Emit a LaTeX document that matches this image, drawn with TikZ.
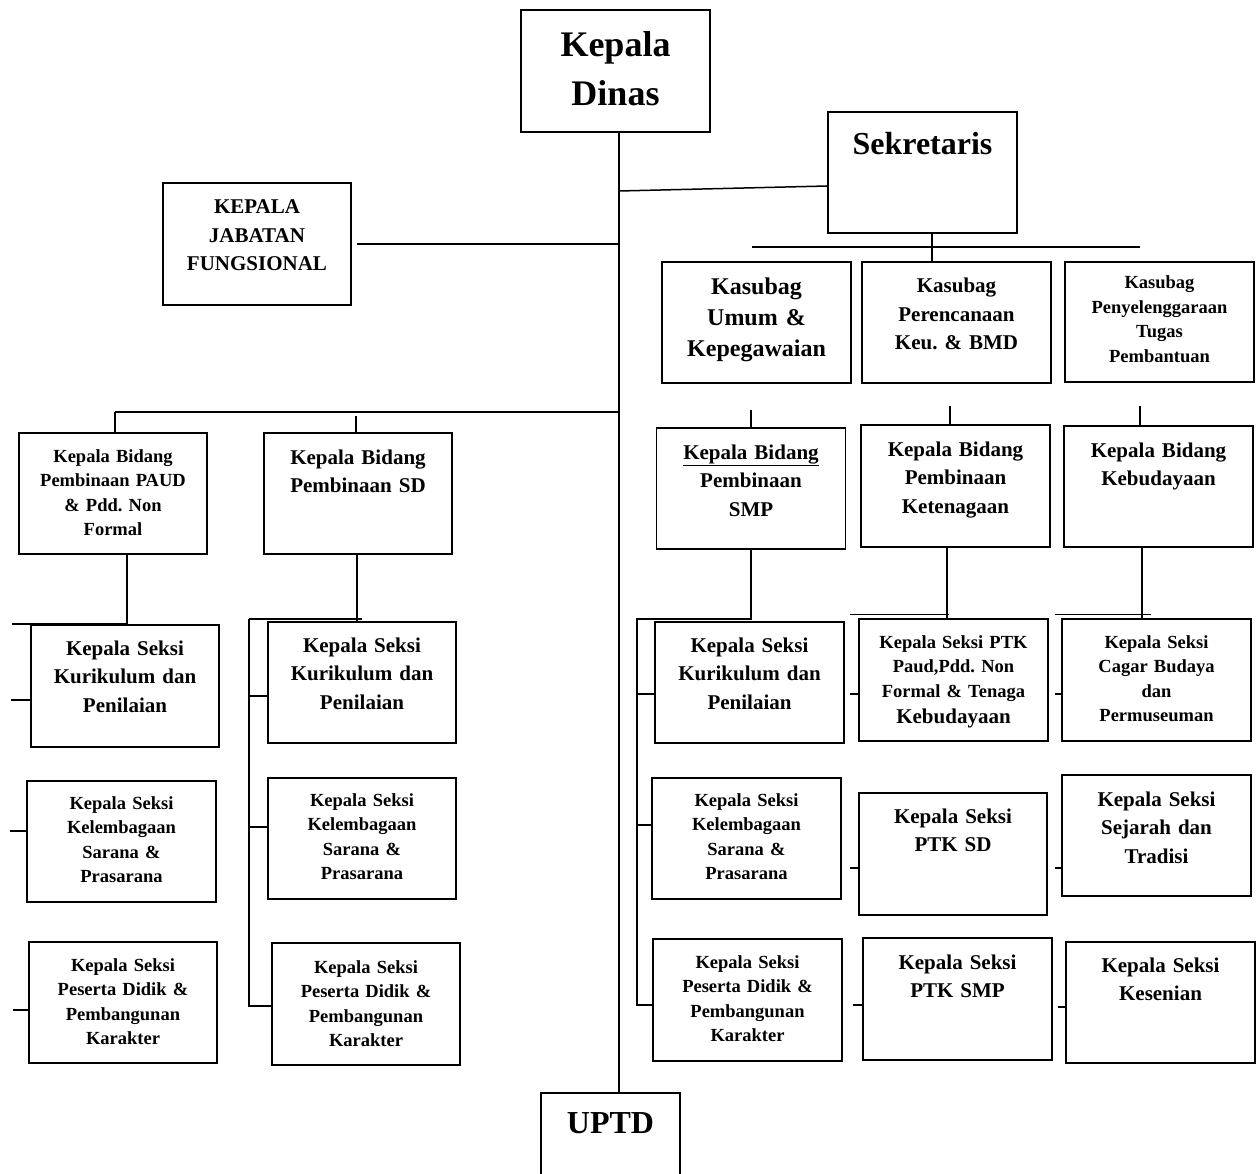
\documentclass[tikz,border=0pt]{standalone}
\usepackage{fontspec}
\setmainfont{Liberation Serif}
\frenchspacing
\newcommand{\raksasa}{\fontsize{36}{49}\selectfont\bfseries}
\newcommand{\judul}{\fontsize{32}{40}\selectfont\bfseries}
\newcommand{\agakbesar}{\fontsize{24}{31}\selectfont\bfseries}
\newcommand{\sedang}{\fontsize{21}{28.5}\selectfont\bfseries}
\newcommand{\kecil}{\fontsize{18.5}{24.5}\selectfont\bfseries}

\begin{document}
\begin{tikzpicture}[x=1pt, y=-1pt, line width=1.5pt,
    kotak/.style={draw, minimum width=189pt, minimum height=121pt, inner sep=0pt},
    tulis/.style={anchor=base, text width=186pt, align=center, inner sep=0pt}]
        \useasboundingbox (0,0) rectangle (1259,1174);
        \coordinate (poros) at (619,0);

        % pimpinan
        \node[kotak, minimum height=122pt] (kd) at (615.5,71) {};
        \node[tulis, font=\raksasa] (tkd) at (615.5,57) {Kepala\\Dinas};
        \node[kotak] (sek) at (922.5,172.5) {};
        \node[tulis, font=\judul] (tsek) at (922.5,155) {Sekretaris};
        \node[kotak, minimum width=139pt, minimum height=97pt] (uptd) at (610.5,1141.5) {};
        \node[tulis, font=\judul] (tuptd) at (610.5,1133) {UPTD};
        \node[kotak, minimum width=188pt, minimum height=122pt] (jf) at (257,244) {};
        \node[tulis, font=\sedang] (tjf) at (257,214) {KEPALA\\JABATAN\\FUNGSIONAL};

        % kasubag
        \node[kotak] (umum) at (756.5,322.5) {};
        \node[tulis, font=\agakbesar] (tumum) at (756.5,295) {Kasubag\\Umum \&\\Kepegawaian};
        \node[kotak] (ren) at (956.5,322.5) {};
        \node[tulis, font=\sedang] (tren) at (956.5,293) {Kasubag\\Perencanaan\\Keu. \& BMD};
        \node[kotak, minimum height=120pt] (pen) at (1159.5,322) {};
        \node[tulis, font=\kecil] (tpen) at (1159.5,289) {Kasubag\\Penyelenggaraan\\Tugas\\Pembantuan};

        % kepala bidang
        \node[kotak, minimum width=188pt] (bpaud) at (113,493.5) {};
        \node[tulis, font=\kecil] (tbpaud) at (113,462) {Kepala Bidang\\Pembinaan PAUD\\\& Pdd. Non\\Formal};
        \node[kotak, minimum width=188pt] (bsd) at (358,493.5) {};
        \node[tulis, font=\sedang] (tbsd) at (358,464) {Kepala Bidang\\Pembinaan SD};
        \node[kotak] (bsmp) at (751,488.5) {};
        \node[tulis, font=\sedang] (tbsmp) at (751,459) {\underline{Kepala Bidang}\\Pembinaan\\SMP};
        \node[kotak, minimum height=122pt] (bket) at (955.5,486) {};
        \node[tulis, font=\sedang] (tbket) at (955.5,456) {Kepala Bidang\\Pembinaan\\Ketenagaan};
        \node[kotak] (bbud) at (1158.5,486.5) {};
        \node[tulis, font=\sedang] (tbbud) at (1158.5,457) {Kepala Bidang\\Kebudayaan};

        % seksi baris 1
        \node[kotak, minimum width=188pt, minimum height=122pt] (kurL) at (125,686) {};
        \node[tulis, font=\sedang] (tkurL) at (125,655) {Kepala Seksi\\Kurikulum dan\\Penilaian};
        \node[kotak, minimum width=188pt] (kurSD) at (362,682.5) {};
        \node[tulis, font=\sedang] (tkurSD) at (362,652) {Kepala Seksi\\Kurikulum dan\\Penilaian};
        \node[kotak] (kurSMP) at (749.5,682.5) {};
        \node[tulis, font=\sedang] (tkurSMP) at (749.5,652) {Kepala Seksi\\Kurikulum dan\\Penilaian};
        \node[kotak, minimum height=122pt] (ptkpaud) at (953.5,680) {};
        \node[tulis, font=\kecil] (tptkpaud) at (953.5,648) {Kepala Seksi PTK\\Paud,Pdd. Non\\Formal \& Tenaga\\[1.5pt]{\fontsize{21}{24.5}\selectfont Kebudayaan}};
        \node[kotak, minimum height=122pt] (cagar) at (1156.5,680) {};
        \node[tulis, font=\kecil] (tcagar) at (1156.5,648) {Kepala Seksi\\Cagar Budaya\\dan\\Permuseuman};

        % seksi baris 2
        \node[kotak] (kelL) at (121.5,841.5) {};
        \node[tulis, font=\kecil] (tkelL) at (121.5,809) {Kepala Seksi\\Kelembagaan\\Sarana \&\\Prasarana};
        \node[kotak, minimum width=188pt] (kelSD) at (362,838.5) {};
        \node[tulis, font=\kecil] (tkelSD) at (362,806) {Kepala Seksi\\Kelembagaan\\Sarana \&\\Prasarana};
        \node[kotak] (kelSMP) at (746.5,838.5) {};
        \node[tulis, font=\kecil] (tkelSMP) at (746.5,806) {Kepala Seksi\\Kelembagaan\\Sarana \&\\Prasarana};
        \node[kotak, minimum width=188pt, minimum height=122pt] (ptksd) at (953,854) {};
        \node[tulis, font=\sedang] (tptksd) at (953,823) {Kepala Seksi\\PTK SD};
        \node[kotak] (sejarah) at (1156.5,835.5) {};
        \node[tulis, font=\sedang] (tsejarah) at (1156.5,806) {Kepala Seksi\\Sejarah dan\\Tradisi};

        % seksi baris 3
        \node[kotak, minimum width=188pt] (pesL) at (123,1002.5) {};
        \node[tulis, font=\kecil] (tpesL) at (123,971) {Kepala Seksi\\Peserta Didik \&\\Pembangunan\\Karakter};
        \node[kotak, minimum width=188pt, minimum height=122pt] (pesSD) at (366,1004) {};
        \node[tulis, font=\kecil] (tpesSD) at (366,973) {Kepala Seksi\\Peserta Didik \&\\Pembangunan\\Karakter};
        \node[kotak, minimum height=122pt] (pesSMP) at (747.5,1000) {};
        \node[tulis, font=\kecil] (tpesSMP) at (747.5,968) {Kepala Seksi\\Peserta Didik \&\\Pembangunan\\Karakter};
        \node[kotak, minimum height=122pt] (ptksmp) at (957.5,999) {};
        \node[tulis, font=\sedang] (tptksmp) at (957.5,969) {Kepala Seksi\\PTK SMP};
        \node[kotak] (kesenian) at (1160.5,1002.5) {};
        \node[tulis, font=\sedang] (tkesenian) at (1160.5,972) {Kepala Seksi\\Kesenian};

        % garis utama
        \draw (kd.south -| poros) -- (uptd.north -| poros);
        \draw (poros |- 0,191) -- ([yshift=-13.5pt]sek.west);
        \draw ([xshift=5pt]jf.east) -- (jf.east -| poros);

        % sekretariat
        \coordinate (sbkiri) at (752,247);
        \draw (sbkiri) -- ++(388,0);
        \draw ([xshift=9.5pt]sek.south) -- ([xshift=-24.5pt]ren.north);
        \draw (bsmp.north) -- ++(0,-17);
        \draw ([xshift=-5.5pt]bket.north) -- ++(0,-18);
        \draw ([xshift=-18.5pt]bbud.north) -- ++(0,-19);

        % bidang kiri
        \coordinate (bkiri) at (115,412);
        \draw (bkiri) -- (poros |- bkiri);
        \draw (bkiri) -- (bkiri |- bpaud.north);
        \draw ([xshift=-2pt]bsd.north) -- ++(0,-16);

        % PAUD
        \draw ([xshift=14pt]bpaud.south) -- ++(0,69) -- ++(-115,0);
        \draw ([yshift=-14pt]kurL.west) -- ++(-19,0);
        \draw ([yshift=10.5pt]kelL.west) -- ++(-16,0);
        \draw ([yshift=-7.5pt]pesL.west) -- ++(-15,0);

        % SD
        \coordinate (sdk) at (249,619);
        \draw ([xshift=-1pt]bsd.south) -- ++(0,68);
        \draw (sdk) -- ++(113,0);
        \draw (sdk) |- ([yshift=-2pt]pesSD.west);
        \draw ([yshift=-13.5pt]kurSD.west) -- ++(-19,0);
        \draw ([yshift=11.5pt]kelSD.west) -- ++(-19,0);

        % SMP
        \draw (bsmp.south) -- ++(0,69) -- ++(-114,0) |- ([yshift=-5pt]pesSMP.west);
        \draw ([yshift=-11.5pt]kurSMP.west) -- ++(-18,0);
        \draw ([yshift=13.5pt]kelSMP.west) -- ++(-15,0);

        % ketenagaan
        \draw ([xshift=-8.5pt]bket.south) -- ++(0,72);
        \draw ([shift={(-8,-4)}]ptkpaud.north west) -- ++(99,0);
        \draw ([yshift=-14pt]ptkpaud.west) -- ++(-8,0);
        \draw ([yshift=-14pt]ptksd.west) -- ++(-8,0);
        \draw ([yshift=-6pt]ptksmp.west) -- ++(-9,0);

        % kebudayaan
        \draw ([xshift=-16.5pt]bbud.south) -- ++(0,71);
        \draw ([shift={(-6,-4)}]cagar.north west) -- ++(96,0);
        \draw ([yshift=-14pt]cagar.west) -- ++(-6,0);
        \draw ([yshift=-32.5pt]sejarah.west) -- ++(-6,0);
        \draw ([yshift=-4.5pt]kesenian.west) -- ++(-7,0);
\end{tikzpicture}
\end{document}
